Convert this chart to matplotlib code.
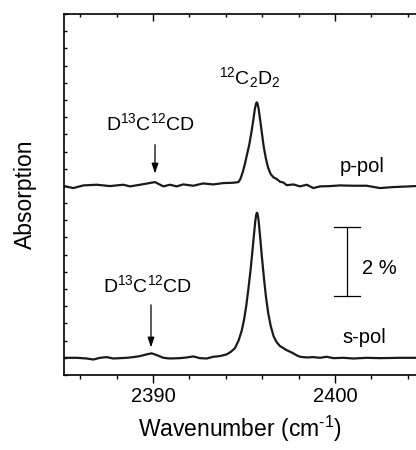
import matplotlib
matplotlib.use("Agg")
import matplotlib.pyplot as plt
from matplotlib.ticker import MultipleLocator, NullFormatter

plt.rcParams['font.family'] = ['Liberation Sans', 'DejaVu Sans']
plt.rcParams['mathtext.fontset'] = 'custom'
plt.rcParams['mathtext.rm'] = 'Liberation Sans'
plt.rcParams['mathtext.it'] = 'Liberation Sans'
plt.rcParams['mathtext.bf'] = 'Liberation Sans:bold'
plt.rcParams['mathtext.default'] = 'rm'

# p-polarised spectrum (wavenumber cm^-1, absorption %)
p_x = [2385.11, 2385.62, 2386.17, 2386.91, 2387.64, 2388.37, 2388.74, 2389.29,
       2390.11, 2390.57, 2390.93, 2391.30, 2391.66, 2392.21, 2392.76, 2393.31,
       2393.86, 2394.41, 2394.69, 2394.80, 2394.92, 2395.04, 2395.16, 2395.29,
       2395.42, 2395.52, 2395.60, 2395.66, 2395.70, 2395.74, 2395.80, 2395.88,
       2395.98, 2396.08, 2396.20, 2396.33, 2396.47, 2396.62, 2396.80,
       2396.98, 2397.16, 2397.35, 2397.71, 2398.08, 2398.45, 2398.81, 2399.18,
       2399.73, 2400.27, 2401.01, 2401.74, 2402.47, 2403.20, 2404.45]
p_y = [4.995, 4.937, 5.014, 5.034, 4.995, 5.034, 4.986, 5.034,
       5.111, 4.986, 5.034, 4.986, 5.043, 5.005, 5.072, 5.043,
       5.082, 5.092, 5.110, 5.200, 5.380, 5.620, 5.900, 6.200,
       6.600, 6.950, 7.250, 7.390, 7.430, 7.400, 7.250, 6.950,
       6.550, 6.150, 5.800, 5.520, 5.340, 5.250, 5.200,
       5.120, 5.100, 5.020, 5.043, 4.986, 5.034, 4.937, 4.986,
       4.995, 5.014, 5.005, 5.005, 4.937, 4.966, 4.995]

# s-polarised spectrum
s_x = [2385.11, 2385.81, 2386.36, 2386.72, 2387.09, 2387.46, 2387.82, 2388.19,
       2388.55, 2388.92, 2389.29, 2389.65, 2389.93, 2390.20, 2390.57, 2390.93,
       2391.48, 2391.85, 2392.21, 2392.58, 2392.95, 2393.31, 2393.68, 2394.05,
       2394.29, 2394.50, 2394.70, 2394.87, 2395.00, 2395.12, 2395.24, 2395.36,
       2395.47, 2395.56, 2395.62, 2395.67, 2395.71, 2395.75, 2395.80, 2395.88,
       2395.98, 2396.09, 2396.20, 2396.33, 2396.47, 2396.63, 2396.80, 2396.98,
       2397.17, 2397.35, 2397.64, 2397.90, 2398.08,
       2398.45, 2398.81, 2399.18, 2399.54, 2399.91, 2400.46, 2401.01, 2401.74,
       2402.47, 2403.57, 2404.45]
s_y = [0.00, 0.00, -0.02, -0.05, 0.00, 0.02, -0.02, -0.01,
       0.00, 0.02, 0.05, 0.10, 0.13, 0.08, 0.00, -0.02,
       -0.01, 0.01, 0.04, -0.01, -0.02, 0.03, 0.05, 0.10,
       0.18, 0.28, 0.50, 0.78, 1.10, 1.50, 2.00, 2.55,
       3.15, 3.65, 3.98, 4.16, 4.22, 4.18, 4.00, 3.55,
       2.95, 2.35, 1.80, 1.30, 0.92, 0.62, 0.45, 0.34,
       0.28, 0.22, 0.15, 0.07, 0.03,
       0.01, 0.02, 0.00, 0.03, -0.01, 0.00, -0.02, 0.00,
       -0.01, 0.00, 0.00]

x_ticks = [2390, 2400]

fig = plt.figure(figsize=(4.16, 4.5), dpi=100)
ax = fig.add_axes([64/416, 1-375/450, 1-64/416, (375-14)/450])

ax.plot(p_x, p_y, color='#1a1a1a', lw=1.6)
ax.plot(s_x, s_y, color='#1a1a1a', lw=1.6)

ax.set_xlim(2385.11, 2404.45)
ax.set_ylim(-0.5, 10.0)

ax.set_xticks(x_ticks)
ax.xaxis.set_minor_locator(MultipleLocator(2))
ax.yaxis.set_major_locator(MultipleLocator(0.5))
ax.yaxis.set_major_formatter(NullFormatter())
ax.tick_params(axis='x', which='major', direction='out', length=5.5, width=1.0,
               labelsize=14.5, pad=3, top=False)
ax.tick_params(axis='x', which='minor', direction='out', length=3, width=1.0, top=False)
ax.tick_params(axis='y', which='major', direction='in', length=2.2, width=1.0)

# top ticks pointing inwards
sec = ax.secondary_xaxis('top')
sec.set_xticks(x_ticks)
sec.xaxis.set_minor_locator(MultipleLocator(2))
sec.tick_params(axis='x', which='major', direction='in', length=5, width=1.0, labeltop=False)
sec.tick_params(axis='x', which='minor', direction='in', length=2.5, width=1.0)
sec.spines['top'].set_visible(False)

for side in ['left', 'bottom', 'top']:
    ax.spines[side].set_linewidth(1.2)
ax.spines['right'].set_visible(False)

ax.set_xlabel('Wavenumber (cm$^{\\text{-}1}$)', fontsize=16.5, labelpad=6)
ax.set_ylabel('Absorption', fontsize=16.5, labelpad=16)

ax.text(2395.33, 7.96, r'$^{12}$C$_2$D$_2$', fontsize=14, ha='center', va='baseline')
ax.text(2389.84, 6.61, r'D$^{13}$C$^{12}$CD', fontsize=14, ha='center', va='baseline')
ax.text(2389.70, 1.92, r'D$^{13}$C$^{12}$CD', fontsize=14, ha='center', va='baseline')
ax.text(2401.48, 5.40, 'p-pol', fontsize=14.5, ha='center', va='baseline')
ax.text(2401.59, 0.43, 's-pol', fontsize=14.5, ha='center', va='baseline')
ax.text(2401.48, 2.45, '2 %', fontsize=14.5, ha='left', va='baseline')

arrow = dict(arrowstyle='-|>,head_length=0.6,head_width=0.2', color='black',
             lw=0.9, mutation_scale=10, shrinkA=0, shrinkB=0)
ax.annotate('', xy=(2390.11, 5.36), xytext=(2390.11, 6.20), arrowprops=arrow)
ax.annotate('', xy=(2389.89, 0.30), xytext=(2389.89, 1.54), arrowprops=arrow)

# 2 % scale bar
bar_x = 2400.64
bar_lo, bar_hi = 1.806, 3.806
ax.plot([bar_x, bar_x], [bar_lo, bar_hi], color='black', lw=0.9)
ax.plot([bar_x - 0.71, bar_x + 0.71], [bar_lo, bar_lo], color='black', lw=0.9)
ax.plot([bar_x - 0.71, bar_x + 0.71], [bar_hi, bar_hi], color='black', lw=0.9)

fig.savefig('out.png', dpi=100)
